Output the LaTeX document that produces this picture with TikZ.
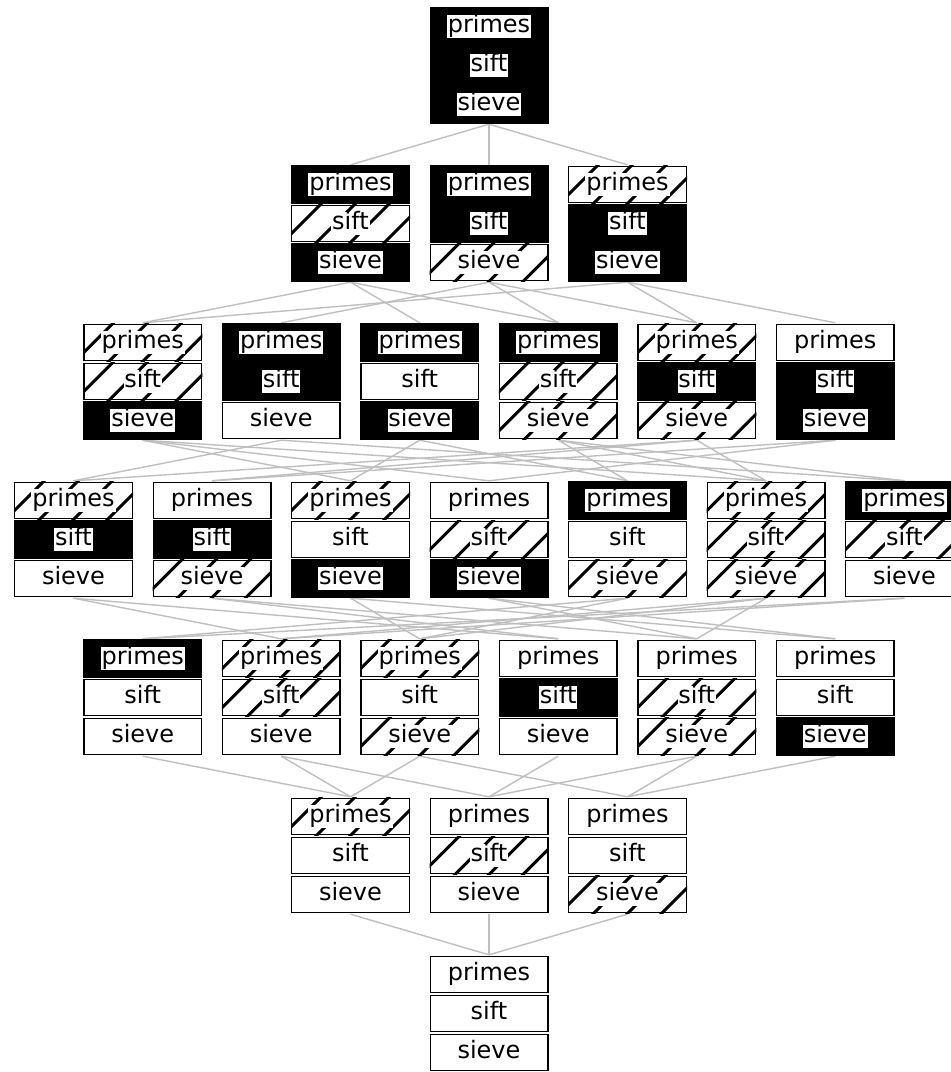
\documentclass[tikz,border=0pt]{standalone}
\usepackage{fontspec}
\setmainfont{DejaVu Sans}

\pgfdeclarelayer{bg}
\pgfsetlayers{bg,main}

\tikzset{
  state/.style={rectangle, inner sep=0pt, minimum width=119pt, minimum height=117pt},
  link/.style={draw=gray!50, line width=1.4pt},
  cellframe/.style={draw=black, line width=1.4pt},
  hatchline/.style={draw=black, line width=3pt},
  lbl/.style={font=\fontsize{24}{28}\selectfont, inner sep=0.8pt,
              text height=17pt, text depth=4.8pt},
}

% one cell of a state box: #1 centre x, #2 top y, #3 level (0 white, 1 hatched, 2 black), #4 label
\newcommand\mkcell[4]{%
  \ifcase#3\relax
    \draw[cellframe] (#1-58.8, #2+1.3) rectangle (#1+58.8, #2+37.7);
    \node[lbl] at (#1, #2+19.5) {#4};
  \or
    \begin{scope}
      \clip (#1-59.5, #2+0.6) rectangle (#1+59.5, #2+38.4);
      \foreach \off in {30,64,98,132}
        \draw[hatchline] (#1-59.5+\off+12, #2-12) -- (#1-59.5+\off-52, #2+52);
    \end{scope}
    \draw[cellframe] (#1-58.8, #2+1.3) rectangle (#1+58.8, #2+37.7);
    \node[lbl, fill=white] at (#1, #2+19.5) {#4};
  \or
    \fill[black] (#1-59.5, #2) rectangle (#1+59.5, #2+39);
    \node[lbl, fill=white] at (#1, #2+19.5) {#4};
  \fi}

% a row of states: #1 row index, #2 number of states, #3 list of levels p/s/v
\newcommand\placerow[3]{%
  \foreach \a/\b/\c [count=\i from 0] in {#3} {
    \pgfmathsetmacro\cx{489+138.5*(\i-(#2-1)/2)}
    \pgfmathsetmacro\ty{7+158*#1}
    \node[state] (n\a\b\c) at (\cx, \ty+58.5) {};
    \mkcell{\cx}{\ty}{\a}{primes}
    \mkcell{\cx}{\ty+39}{\b}{sift}
    \mkcell{\cx}{\ty+78}{\c}{sieve}
  }}

\begin{document}
\begin{tikzpicture}[x=1pt, y=-1pt]
  \useasboundingbox (0,0) rectangle (951,1072);
  \begin{pgfonlayer}{bg}
    \fill[white] (0,0) rectangle (951,1072);
  \end{pgfonlayer}
  \clip (0,0) rectangle (951,1072);

  \placerow{0}{1}{2/2/2}
  \placerow{1}{3}{2/1/2, 2/2/1, 1/2/2}
  \placerow{2}{6}{1/1/2, 2/2/0, 2/0/2, 2/1/1, 1/2/1, 0/2/2}
  \placerow{3}{7}{1/2/0, 0/2/1, 1/0/2, 0/1/2, 2/0/1, 1/1/1, 2/1/0}
  \placerow{4}{6}{2/0/0, 1/1/0, 1/0/1, 0/2/0, 0/1/1, 0/0/2}
  \placerow{5}{3}{1/0/0, 0/1/0, 0/0/1}
  \placerow{6}{1}{0/0/0}

  % order relation: each state links to the states one level lower in one component
  \begin{pgfonlayer}{bg}
    \foreach \a in {0,1,2} \foreach \b in {0,1,2} \foreach \c in {0,1,2} {
      \ifnum\a>0 \pgfmathtruncatemacro\lo{\a-1}\draw[link] (n\a\b\c.south) -- (n\lo\b\c.north);\fi
      \ifnum\b>0 \pgfmathtruncatemacro\lo{\b-1}\draw[link] (n\a\b\c.south) -- (n\a\lo\c.north);\fi
      \ifnum\c>0 \pgfmathtruncatemacro\lo{\c-1}\draw[link] (n\a\b\c.south) -- (n\a\b\lo.north);\fi
    }
  \end{pgfonlayer}
\end{tikzpicture}
\end{document}
